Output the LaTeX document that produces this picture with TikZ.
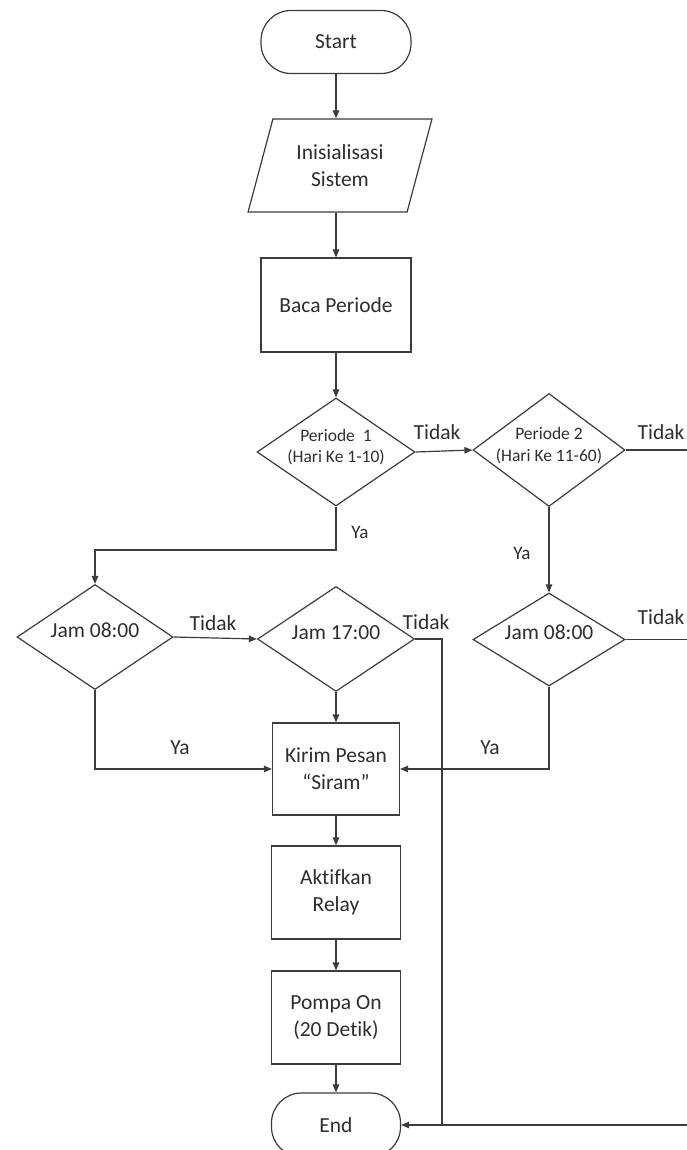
\documentclass[tikz,border=0pt]{standalone}
\usepackage{fontspec}
\setmainfont{Carlito}[Ligatures=NoCommon]
\usetikzlibrary{shapes.geometric,arrows.meta,calc}
\definecolor{ln}{HTML}{3C3C3C}
\definecolor{tx}{HTML}{2E2E2E}
\newcommand\dtext[1]{\smash{\makebox[0pt]{\begin{tabular}{@{}c@{}}#1\end{tabular}}}}
\begin{document}
\begin{tikzpicture}[x=1pt,y=-1pt,
  base/.style={draw=ln, text=tx, font=\fontsize{21.5}{27}\selectfont, align=center, inner sep=0pt, line width=1.2pt},
  term/.style={base, rectangle, rounded corners=30pt, minimum height=63pt},
  io/.style={base, trapezium, trapezium left angle=69, trapezium right angle=111, trapezium stretches=true, minimum width=184pt, minimum height=93pt},
  proc/.style={base, rectangle},
  dec/.style={base, diamond},
  lab/.style={text=tx, font=\fontsize{21.5}{26}\selectfont, inner sep=0pt},
  arr/.style={draw=ln, line width=1.2pt, -{Triangle[length=8pt,width=6.5pt]}},
  con/.style={draw=ln, line width=1.2pt}]
\useasboundingbox (0,0) rectangle (686,1150);
\fill[white] (0,0) rectangle (686,1150);

% nodes
\node[term, minimum width=150pt] (start) at (336,42) {Start};
\node[io] (init) at (340,165.5) {Inisialisasi\\Sistem};
\node[proc, minimum width=150pt, minimum height=94pt] (baca) at (336,305) {Baca Periode};
\node[dec, minimum width=158pt, minimum height=108pt] (p1) at (336,452) {\fontsize{17.5}{21}\selectfont\dtext{Periode\ \ 1\\(Hari Ke 1-10)}};
\node[dec, minimum width=152pt, minimum height=113pt] (p2) at (549,450) {\fontsize{17.5}{22}\selectfont\dtext{Periode 2\\(Hari Ke 11-60)}};
\node[dec, minimum width=156pt, minimum height=105pt] (j1) at (95,637) {\dtext{Jam 08:00}};
\node[dec, minimum width=157pt, minimum height=105pt] (j2) at (336,639) {\dtext{Jam 17:00}};
\node[dec, minimum width=152pt, minimum height=93pt] (j3) at (549,639.5) {\dtext{Jam 08:00}};
\node[proc, minimum width=127pt, minimum height=92pt] (kirim) at (336,769) {Kirim Pesan\\“Siram”};
\node[proc, minimum width=129pt, minimum height=93pt] (akt) at (336,892.5) {Aktifkan\\Relay};
\node[proc, minimum width=129pt, minimum height=93pt] (pompa) at (336,1017.5) {Pompa On\\(20 Detik)};
\node[term, minimum width=129pt, minimum height=64pt] (end) at (336,1125) {End};

% helper coordinates
\coordinate (r1) at (692,450);
\coordinate (r2) at (692,639.5);
\coordinate (r3) at (692,1125);
\coordinate (ya1) at (336,550);
\coordinate (t2) at (442,639);
\coordinate (jn) at (442,1125);

% connectors
\draw[arr] (start.south) -- (start.south |- init.north);
\draw[arr] (baca.north |- init.south) -- (baca.north);
\draw[arr] (baca.south) -- (p1.north);
\draw[arr] (p1.east) -- (p2.west);
\draw[con] (p2.east) -- (r1);
\draw[arr] (p1.south) -- (ya1) -| (j1.north);
\draw[arr] (j1.east) -- (j2.west);
\draw[con] (j2.east) -- (t2) -- (jn);
\draw[arr] (r3) -- (end.east);
\draw[arr] (j2.south) -- (kirim.north);
\draw[arr] (j1.south) |- (kirim.west);
\draw[arr] (p2.south) -- (j3.north);
\draw[con] (j3.east) -- (r2);
\draw[arr] (j3.south) |- (kirim.east);
\draw[arr] (kirim.south) -- (akt.north);
\draw[arr] (akt.south) -- (pompa.north);
\draw[arr] (pompa.south) -- (end.north);

% labels
\node[lab] (l1) at (437,432) {Tidak};
\node[lab] (l2) at (661,432) {Tidak};
\node[lab, font=\fontsize{19}{23}\selectfont] (l3) at (360,532) {Ya};
\node[lab] (l4) at (213,623) {Tidak};
\node[lab] (l5) at (426,622) {Tidak};
\node[lab] (l6) at (661,617) {Tidak};
\node[lab, font=\fontsize{19}{23}\selectfont] (l7) at (522,553) {Ya};
\node[lab] (l8) at (180,748) {Ya};
\node[lab] (l9) at (490,748) {Ya};
\end{tikzpicture}
\end{document}
